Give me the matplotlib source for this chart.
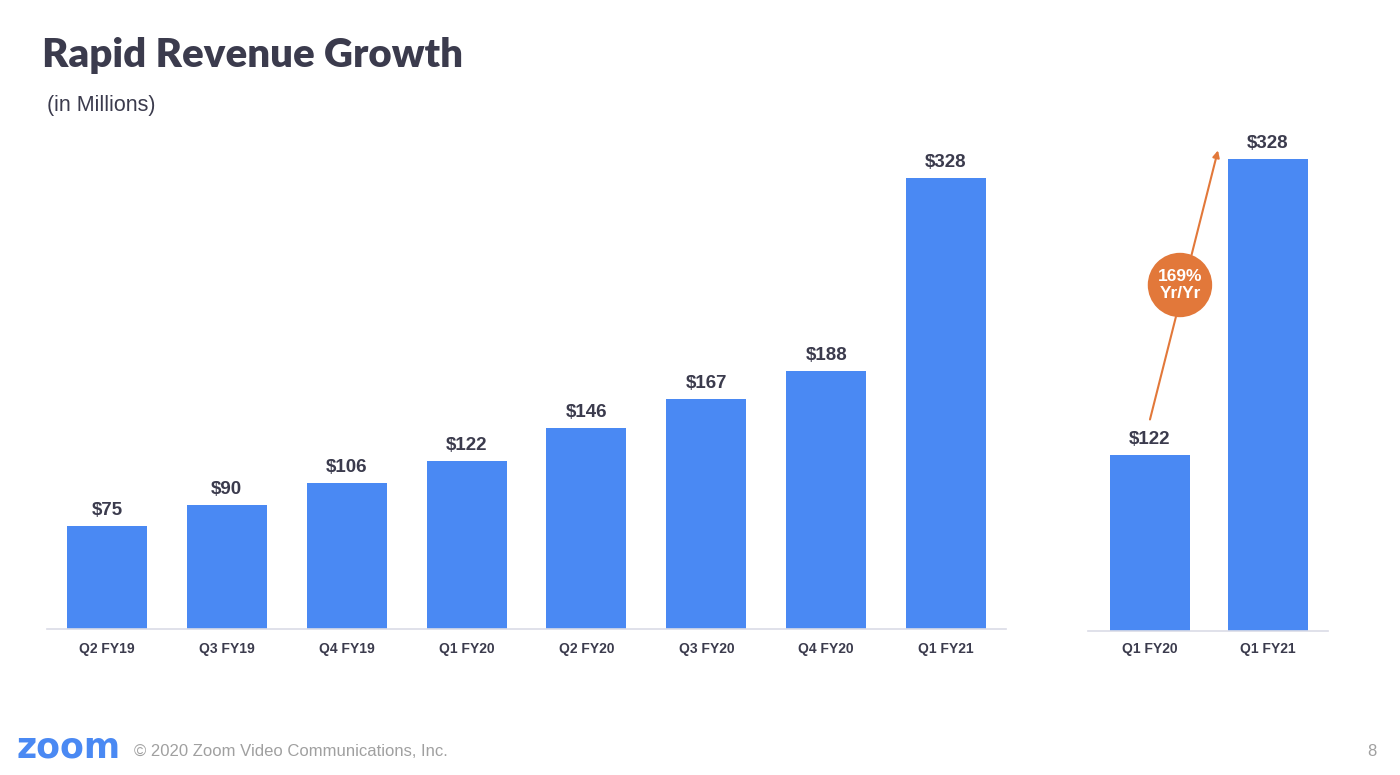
import matplotlib
matplotlib.use("Agg")
import matplotlib.pyplot as plt

quarters = ["Q2 FY19", "Q3 FY19", "Q4 FY19", "Q1 FY20", "Q2 FY20", "Q3 FY20", "Q4 FY20", "Q1 FY21"]
revenue = [75, 90, 106, 122, 146, 167, 188, 328]
yoy_quarters = ["Q1 FY20", "Q1 FY21"]
yoy_revenue = [122, 328]
growth_label = "169%\nYr/Yr"

BAR = "#4A89F3"
DARK = "#3B3B4D"
ORANGE = "#E2783A"
GRID = "#DADBE6"

W, H = 1400, 775
fig = plt.figure(figsize=(14, 7.75), dpi=100)
fig.patch.set_facecolor("white")

def style(ax):
    for s in ["top", "right", "left"]:
        ax.spines[s].set_visible(False)
    ax.spines["bottom"].set_color(GRID)
    ax.spines["bottom"].set_linewidth(1.2)
    ax.set_yticks([])
    ax.tick_params(axis="x", length=0, pad=9)
    for t in ax.get_xticklabels():
        t.set_fontfamily("Liberation Sans")
        t.set_fontweight("bold")
        t.set_fontsize(10)
        t.set_color(DARK)

# Left main chart
ax1 = fig.add_axes([47 / W, (H - 629) / H, (1006 - 47) / W, (629 - 140) / H])
x1 = list(range(len(quarters)))
ax1.bar(x1, revenue, width=0.667, color=BAR)
ax1.set_xlim(-0.5, 7.5)
ax1.set_ylim(0, 489 / 1.375)
ax1.set_xticks(x1)
ax1.set_xticklabels(quarters)
style(ax1)
for xi, v in zip(x1, revenue):
    ax1.annotate(f"${v}", (xi, v), xytext=(0, 5), textcoords="offset points",
                 ha="center", va="bottom", fontsize=13.5, fontweight="bold",
                 color=DARK, family="Liberation Sans")

# Right comparison chart
ax2 = fig.add_axes([1088 / W, (H - 631) / H, (1328 - 1088) / W, (631 - 130) / H])
x2 = list(range(len(yoy_quarters)))
ax2.bar(x2, yoy_revenue, width=0.678, color=BAR)
ax2.set_xlim(-0.525, 1.508)
ax2.set_ylim(0, 501 / 1.439)
ax2.set_xticks(x2)
ax2.set_xticklabels(yoy_quarters)
style(ax2)
ax2.tick_params(axis="x", pad=8)
for xi, v in zip(x2, yoy_revenue):
    ax2.annotate(f"${v}", (xi, v), xytext=(0, 5), textcoords="offset points",
                 ha="center", va="bottom", fontsize=13.5, fontweight="bold",
                 color=DARK, family="Liberation Sans")

# Growth arrow
ax2.annotate("", xy=(0.576, yoy_revenue[1] + 6), xytext=(0.0, yoy_revenue[0] + 25),
             arrowprops=dict(arrowstyle="-|>", color=ORANGE, lw=1.5,
                             mutation_scale=10, shrinkA=0, shrinkB=0))
cx = 0.254
cy = (631 - 285) / 1.439
sc = ax2.scatter([cx], [cy], s=2150, color=ORANGE, zorder=5, edgecolors="none")
sc.set_clip_on(False)
ax2.text(cx, cy, growth_label, ha="center", va="center", fontsize=12.5,
         fontweight="bold", color="white", family="Liberation Sans",
         zorder=6, linespacing=1.1)

# Titles
fig.text(42 / W, 1 - 56 / H, "Rapid Revenue Growth", ha="left", va="center",
         fontsize=29, fontweight="heavy", color=DARK, family="Lato")
fig.text(47 / W, 1 - 105 / H, "(in Millions)", ha="left", va="center",
         fontsize=15.5, color=DARK, family="Liberation Sans")

# Footer
fig.text(17 / W, 1 - 747 / H, "zoom", ha="left", va="center", fontsize=25,
         fontweight="bold", color="#4A89F3", family="DejaVu Sans")
fig.text(134 / W, 1 - 751 / H, "\u00a9 2020 Zoom Video Communications, Inc.",
         ha="left", va="center", fontsize=12, color="#A0A0A0", family="Liberation Sans")
fig.text(1372 / W, 1 - 751 / H, "8", ha="center", va="center", fontsize=12,
         color="#A0A0A0", family="Liberation Sans")

fig.savefig("out.png", dpi=100, facecolor="white")
